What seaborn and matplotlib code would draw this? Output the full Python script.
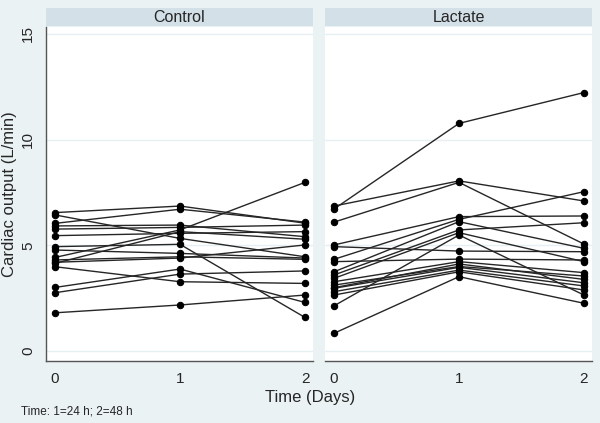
import numpy as np
import pandas as pd
import matplotlib
matplotlib.use("Agg")
import matplotlib.pyplot as plt
from matplotlib.patches import Rectangle
import seaborn as sns

days = [0, 1, 2]
day_ticks = ["0", "1", "2"]
y_ticks = [0, 5, 10, 15]
groups = ["Control", "Lactate"]

control_d0 = [6.55, 6.44, 6.04, 5.92, 5.77, 5.46, 4.94, 4.78, 4.43, 4.31, 4.15, 3.99, 3.01, 2.76, 1.81, 4.20]
control_d1 = [6.86, 5.33, 6.71, 5.96, 5.85, 5.57, 5.05, 4.62, 5.73, 4.46, 5.65, 3.28, 3.88, 3.64, 2.18, 4.40]
control_d2 = [6.05, 4.46, 6.10, 5.41, 5.96, 5.65, 1.59, 4.40, 7.98, 4.34, 5.29, 3.20, 2.30, 3.79, 2.65, 5.02]

lactate_d0 = [6.72, 6.86, 6.10, 5.02, 4.94, 4.34, 4.23, 3.75, 3.60, 3.44, 3.28, 3.12, 3.00, 2.97, 2.81, 2.65, 2.14, 0.84]
lactate_d1 = [10.77, 8.05, 7.98, 6.36, 4.73, 6.23, 4.35, 6.12, 5.73, 5.60, 4.23, 4.00, 4.12, 3.96, 3.83, 3.75, 5.49, 3.52]
lactate_d2 = [12.23, 7.10, 5.06, 6.39, 4.70, 7.54, 4.31, 4.86, 6.07, 4.23, 3.71, 3.55, 3.39, 3.23, 3.08, 2.89, 2.65, 2.26]

def long_frame(d0, d1, d2):
    rows = []
    for i, vals in enumerate(zip(d0, d1, d2)):
        for d, v in zip(days, vals):
            rows.append({"pid": i, "day": d, "co": v})
    return pd.DataFrame(rows)

frames = {"Control": long_frame(control_d0, control_d1, control_d2),
          "Lactate": long_frame(lactate_d0, lactate_d1, lactate_d2)}

sns.set_style("white")
plt.rcParams["font.family"] = ["Liberation Sans", "DejaVu Sans"]

W, H = 600, 423
BG = "#eaf2f3"
STRIP = "#d3e0e7"
fig = plt.figure(figsize=(W / 100, H / 100), dpi=100, facecolor=BG)

def fx(px):
    return px / W

def fy(py):
    return 1 - py / H

panels = [(46, 313), (325, 592)]
top_px, bot_px = 27, 361
strip_top = 8

for (x0, x1), g in zip(panels, groups):
    ax = fig.add_axes([fx(x0), fy(bot_px), fx(x1 - x0), (bot_px - top_px) / H])
    ax.set_facecolor("white")
    for yv in y_ticks:
        ax.axhline(yv, color="#e6eff1", lw=1.0, zorder=0)
    sns.lineplot(data=frames[g], x="day", y="co", units="pid", estimator=None,
                 ax=ax, color="#262626", lw=1.0, marker="o", markersize=4.6,
                 markerfacecolor="black", markeredgecolor="black", legend=False,
                 zorder=3)
    ax.set_xlim(-0.072, 2.064)
    ax.set_ylim(-0.47, 15.33)
    ax.set_xticks(days)
    ax.set_xticklabels(day_ticks, fontsize=11)
    ax.set_xlabel("")
    ax.set_ylabel("")
    for s in ["top", "right"]:
        ax.spines[s].set_visible(False)
    ax.spines["bottom"].set_color("#555555")
    ax.spines["bottom"].set_linewidth(1.0)
    ax.tick_params(axis="x", direction="out", length=5, width=0.9, color="#555555", pad=3)
    if g == "Control":
        ax.spines["left"].set_color("#555555")
        ax.spines["left"].set_linewidth(1.0)
        ax.set_yticks(y_ticks)
        ax.set_yticklabels([str(v) for v in y_ticks], fontsize=11, rotation=90, va="center")
        ax.tick_params(axis="y", direction="out", length=5, width=0.9, color="#555555", pad=3)
    else:
        ax.spines["left"].set_visible(False)
        ax.set_yticks([])
    fig.patches.append(Rectangle((fx(x0), fy(top_px - 1)), fx(x1 - x0), (top_px - 1 - strip_top) / H,
                                 transform=fig.transFigure, facecolor=STRIP, edgecolor="none"))
    fig.text(fx((x0 + x1) / 2), fy((strip_top + top_px) / 2), g, ha="center", va="center", fontsize=11.5)

fig.text(fx(10), fy(194), "Cardiac output (L/min)", rotation=90, ha="center", va="center", fontsize=12)
fig.text(fx(310), fy(397), "Time (Days)", ha="center", va="center", fontsize=12)
fig.text(fx(21), fy(411), "Time: 1=24 h; 2=48 h", ha="left", va="center", fontsize=8.5)

fig.savefig("out.png", dpi=100, facecolor=BG)
